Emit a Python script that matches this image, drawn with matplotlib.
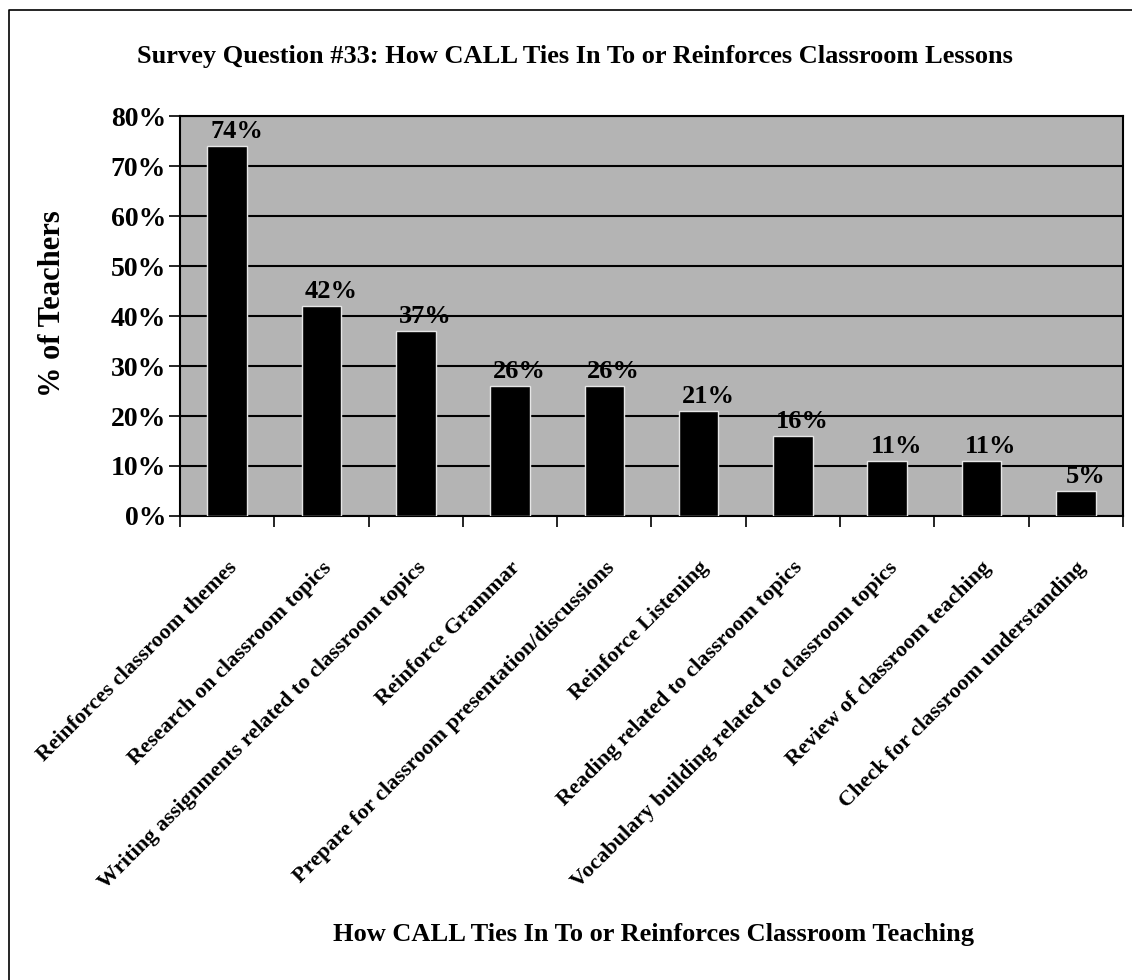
import matplotlib
matplotlib.use("Agg")
import matplotlib.pyplot as plt
from matplotlib.lines import Line2D
from matplotlib.ticker import FuncFormatter, FixedLocator
import numpy as np

# survey answers, percent of teachers
categories = [
    "Reinforces classroom themes",
    "Research on classroom topics",
    "Writing assignments related to classroom topics",
    "Reinforce Grammar",
    "Prepare for classroom presentation/discussions",
    "Reinforce Listening",
    "Reading related to classroom topics",
    "Vocabulary building related to classroom topics",
    "Review of classroom teaching",
    "Check for classroom understanding",
]
percents = [74, 42, 37, 26, 26, 21, 16, 11, 11, 5]

plt.rcParams["font.family"] = ["Liberation Serif", "DejaVu Serif"]
plt.rcParams["font.weight"] = "bold"

fig = plt.figure(figsize=(11.32, 9.8), dpi=100)
ax = fig.add_axes([0.159, 0.4735, 0.833, 0.408])

x = np.arange(len(categories))
ax.set_facecolor("#b4b4b4")
ax.set_axisbelow(True)
ax.yaxis.grid(True, color="black", linewidth=1.5)
bars = ax.bar(x, percents, width=0.42, color="black", edgecolor="#e6e6e6", linewidth=1.0, zorder=3)

for xi, v in zip(x, percents):
    ax.text(xi + 0.1, v + 0.6, f"{v}%", ha="center", va="bottom",
            fontsize=19, fontweight="bold", zorder=4)

ax.set_xlim(-0.5, len(categories) - 0.5)
ax.set_ylim(0, 80)
ax.set_yticks(np.arange(0, 81, 10))
ax.yaxis.set_major_formatter(FuncFormatter(lambda v, p: f"{int(v)}%"))
ax.tick_params(axis="y", direction="out", length=8, width=1.2, labelsize=20, pad=2)

# ticks between the categories, labels under each bar
ax.xaxis.set_major_locator(FixedLocator(np.arange(-0.5, len(categories), 1.0)))
ax.xaxis.set_major_formatter(FuncFormatter(lambda v, p: ""))
ax.xaxis.set_minor_locator(FixedLocator(x))
ax.set_xticklabels(categories, minor=True, rotation=45, ha="right",
                   rotation_mode="anchor", fontsize=16, fontweight="bold")
ax.tick_params(axis="x", which="major", direction="out", length=8, width=1.2)
ax.tick_params(axis="x", which="minor", length=0, pad=30)

for s in ax.spines.values():
    s.set_linewidth(1.5)
    s.set_color("black")

fig.text(0.508, 0.942, "Survey Question #33: How CALL Ties In To or Reinforces Classroom Lessons",
         ha="center", va="center", fontsize=19, fontweight="bold")
fig.text(0.046, 0.69, "% of Teachers", rotation=90, ha="center", va="center",
         fontsize=22, fontweight="bold")
fig.text(0.577, 0.046, "How CALL Ties In To or Reinforces Classroom Teaching",
         ha="center", va="center", fontsize=19, fontweight="bold")

# outer chart border (left and top edges)
fig.add_artist(Line2D([0.008, 0.008, 1.0], [0.0, 0.99, 0.99], color="black", linewidth=1.2))

fig.savefig("out.png", dpi=100, facecolor="white")
